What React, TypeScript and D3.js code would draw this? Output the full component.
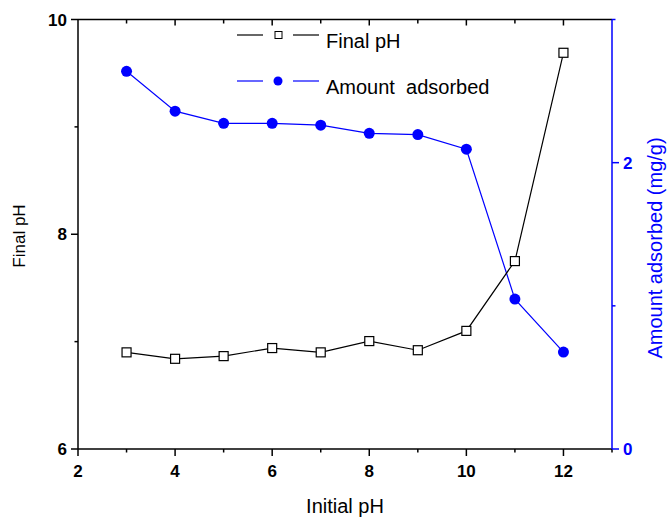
import React, { useEffect, useRef } from 'react';
import * as d3 from 'd3';

const initialPH = [3, 4, 5, 6, 7, 8, 9, 10, 11, 12];
const finalPH = [6.9, 6.84, 6.865, 6.94, 6.9, 7.005, 6.92, 7.1, 7.75, 9.69];
const amountAdsorbed = [2.638, 2.36, 2.275, 2.275, 2.262, 2.205, 2.196, 2.094, 1.047, 0.677];

const xTicks = [2, 4, 6, 8, 10, 12];
const leftTicks = [6, 8, 10];
const rightTicks = [0, 2];

export default function App() {
  const ref = useRef<SVGSVGElement | null>(null);

  useEffect(() => {
    if (!ref.current) return;
    const svg = d3.select(ref.current);
    svg.selectAll('*').remove();

    const width = 668;
    const height = 518;
    const m = { left: 78, right: 56, top: 19.5, bottom: 69 };
    const font = '"Liberation Sans", Arial, sans-serif';

    const x = d3.scaleLinear().domain([2, 13]).range([m.left, width - m.right]);
    const yL = d3.scaleLinear().domain([6, 10]).range([height - m.bottom, m.top]);
    const yR = d3.scaleLinear().domain([0, 3]).range([height - m.bottom, m.top]);

    svg.append('rect').attr('width', width).attr('height', height).attr('fill', 'white');

    const x0 = m.left;
    const x1 = width - m.right;
    const yb = height - m.bottom;
    const yt = m.top;

    // frame lines
    svg.append('line').attr('x1', x0).attr('x2', x1).attr('y1', yb).attr('y2', yb)
      .attr('stroke', '#000').attr('stroke-width', 1.5);
    svg.append('line').attr('x1', x0).attr('x2', x1).attr('y1', yt).attr('y2', yt)
      .attr('stroke', '#000').attr('stroke-width', 1.5);
    svg.append('line').attr('x1', x0).attr('x2', x0).attr('y1', yt).attr('y2', yb)
      .attr('stroke', '#000').attr('stroke-width', 1.5);
    svg.append('line').attr('x1', x1).attr('x2', x1).attr('y1', yt).attr('y2', yb)
      .attr('stroke', '#0000ff').attr('stroke-width', 1.5);

    // x ticks bottom (outward) and top (inward)
    d3.range(2, 14).forEach((v) => {
      const major = v % 2 === 0;
      svg.append('line').attr('x1', x(v)).attr('x2', x(v)).attr('y1', yb).attr('y2', yb + (major ? 7 : 3.5))
        .attr('stroke', '#000').attr('stroke-width', 1.5);
      if (v > 2 && v < 13) {
        svg.append('line').attr('x1', x(v)).attr('x2', x(v)).attr('y1', yt).attr('y2', yt + (major ? 6 : 4))
          .attr('stroke', '#000').attr('stroke-width', 1.5);
      }
    });
    svg.append('g').selectAll('text').data(xTicks).join('text')
      .attr('x', (d) => x(d)).attr('y', yb + 28).attr('text-anchor', 'middle')
      .attr('font-family', font).attr('font-weight', 'bold').attr('font-size', 17)
      .text((d) => d);

    // left ticks
    [6, 7, 8, 9, 10].forEach((v) => {
      const major = v % 2 === 0;
      svg.append('line').attr('x1', x0 - (major ? 7 : 3.5)).attr('x2', x0).attr('y1', yL(v)).attr('y2', yL(v))
        .attr('stroke', '#000').attr('stroke-width', 1.5);
    });
    svg.append('g').selectAll('text').data(leftTicks).join('text')
      .attr('x', x0 - 11).attr('y', (d) => yL(d) + 6).attr('text-anchor', 'end')
      .attr('font-family', font).attr('font-weight', 'bold').attr('font-size', 17)
      .text((d) => d);

    // right ticks
    [0, 1, 2, 3].forEach((v) => {
      const major = v % 2 === 0;
      svg.append('line').attr('x1', x1).attr('x2', x1 + (major ? 7 : 3.5)).attr('y1', yR(v)).attr('y2', yR(v))
        .attr('stroke', '#0000ff').attr('stroke-width', 1.5);
    });
    svg.append('g').selectAll('text').data(rightTicks).join('text')
      .attr('x', x1 + 11).attr('y', (d) => yR(d) + 6).attr('text-anchor', 'start')
      .attr('fill', '#0000ff')
      .attr('font-family', font).attr('font-weight', 'bold').attr('font-size', 17)
      .text((d) => d);

    // axis titles
    svg.append('text').attr('x', (x0 + x1) / 2).attr('y', 513).attr('text-anchor', 'middle')
      .attr('font-family', font).attr('font-size', 20).text('Initial pH');
    svg.append('text').attr('transform', 'translate(25,236) rotate(-90)')
      .attr('text-anchor', 'middle').attr('font-family', font).attr('font-size', 17).text('Final pH');
    svg.append('text').attr('transform', 'translate(662,248) rotate(-90)')
      .attr('text-anchor', 'middle').attr('fill', '#0000ff').attr('font-family', font).attr('font-size', 20)
      .text('Amount adsorbed (mg/g)');

    // series
    const lineL = d3.line<number>().x((_, i) => x(initialPH[i])).y((d) => yL(d));
    const lineR = d3.line<number>().x((_, i) => x(initialPH[i])).y((d) => yR(d));

    svg.append('path').datum(amountAdsorbed).attr('d', lineR).attr('fill', 'none')
      .attr('stroke', '#0000ff').attr('stroke-width', 1.2);
    svg.append('g').selectAll('circle').data(amountAdsorbed).join('circle')
      .attr('cx', (_, i) => x(initialPH[i])).attr('cy', (d) => yR(d)).attr('r', 5.5).attr('fill', '#0000ff');

    svg.append('path').datum(finalPH).attr('d', lineL).attr('fill', 'none')
      .attr('stroke', '#000').attr('stroke-width', 1.2);
    svg.append('g').selectAll('rect').data(finalPH).join('rect')
      .attr('x', (_, i) => x(initialPH[i]) - 4.5).attr('y', (d) => yL(d) - 4.5)
      .attr('width', 9).attr('height', 9).attr('fill', 'white').attr('stroke', '#000').attr('stroke-width', 1.2);

    // legend
    const legend = [
      { label: 'Final pH', color: '#000', y: 35, shape: 'square' },
      { label: 'Amount\u00a0 adsorbed', color: '#0000ff', y: 81, shape: 'circle' },
    ];
    legend.forEach((l) => {
      svg.append('line').attr('x1', 237).attr('x2', 263).attr('y1', l.y).attr('y2', l.y)
        .attr('stroke', l.color).attr('stroke-width', 1.2);
      svg.append('line').attr('x1', 293).attr('x2', 319).attr('y1', l.y).attr('y2', l.y)
        .attr('stroke', l.color).attr('stroke-width', 1.2);
      if (l.shape === 'square') {
        svg.append('rect').attr('x', 275).attr('y', l.y - 3.5).attr('width', 7).attr('height', 7)
          .attr('fill', 'white').attr('stroke', l.color).attr('stroke-width', 1);
      } else {
        svg.append('circle').attr('cx', 278).attr('cy', l.y).attr('r', 4.5).attr('fill', l.color);
      }
      svg.append('text').attr('x', 326).attr('y', l.y + 12.5).attr('font-family', font).attr('font-size', 20)
        .attr('fill', '#000').text(l.label);
    });
  }, []);

  return (
    <svg ref={ref} width={668} height={518} style={{ position: 'absolute', left: 0, top: 0 }} />
  );
}
